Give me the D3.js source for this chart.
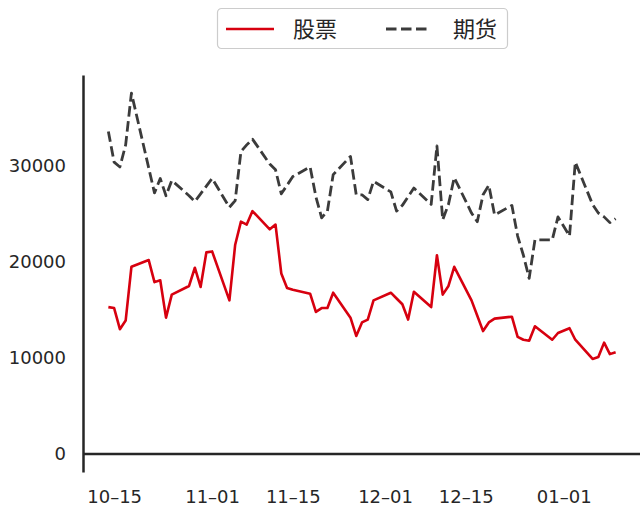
<!DOCTYPE html>
<html>
<head>
<meta charset="utf-8">
<script src="https://cdn.jsdelivr.net/npm/d3@7"></script>
<style>
	body { margin: 0; background: #fff; }
	svg { display: block; }
	.tick text { font-family: 'DejaVu Sans', sans-serif; font-size: 18px; fill: #262626; }
	.legend text { font-family: 'Noto Sans CJK SC', sans-serif; font-size: 22px; fill: #262626; }
</style>
</head>
<body>
<svg id="chart" width="640" height="512"></svg>
<script>
// trading days, Oct 2019 - Jan 2020
const dates = [
	'2019-10-14','2019-10-15','2019-10-16','2019-10-17','2019-10-18',
	'2019-10-21','2019-10-22','2019-10-23','2019-10-24','2019-10-25',
	'2019-10-28','2019-10-29','2019-10-30','2019-10-31','2019-11-01',
	'2019-11-04','2019-11-05','2019-11-06','2019-11-07','2019-11-08',
	'2019-11-11','2019-11-12','2019-11-13','2019-11-14','2019-11-15',
	'2019-11-18','2019-11-19','2019-11-20','2019-11-21','2019-11-22',
	'2019-11-25','2019-11-26','2019-11-27','2019-11-28','2019-11-29',
	'2019-12-02','2019-12-03','2019-12-04','2019-12-05','2019-12-06',
	'2019-12-09','2019-12-10','2019-12-11','2019-12-12','2019-12-13',
	'2019-12-16','2019-12-17','2019-12-18','2019-12-19','2019-12-20',
	'2019-12-23','2019-12-24','2019-12-25','2019-12-26','2019-12-27',
	'2019-12-30','2019-12-31','2020-01-02','2020-01-03',
	'2020-01-06','2020-01-07','2020-01-08','2020-01-09','2020-01-10'
];

const stockValues = [
	15300, 15200, 13000, 13900, 19500,
	20200, 17900, 18100, 14200, 16600,
	17500, 19400, 17400, 21000, 21100,
	16000, 21800, 24200, 23900, 25300,
	23400, 23900, 18800, 17300, 17100,
	16700, 14800, 15200, 15200, 16800,
	14200, 12300, 13700, 14000, 16000,
	16800, 16200, 15600, 14000, 16900,
	15300, 20700, 16600, 17500, 19500,
	16000, 14400, 12800, 13700, 14100,
	14300, 12200, 11900, 11800, 13300,
	11900, 12600, 13100, 11900,
	9900, 10100, 11600, 10400, 10600
];

const futuresValues = [
	33600, 30400, 29900, 32200, 37600,
	29800, 27200, 28700, 26900, 28500,
	26900, 26300, 27100, 27900, 28700,
	25700, 26400, 31500, 32200, 32800,
	30200, 29600, 27100, 28000, 28900,
	29900, 26800, 24600, 25300, 29100,
	31000, 27000, 27000, 26500, 28400,
	27300, 25300, 25900, 26800, 27700,
	26000, 32100, 24400, 26000, 28800,
	25100, 24200, 27000, 28000, 24900,
	25900, 22700, 20700, 18300, 22300,
	22300, 24700, 22700, 30400,
	26000, 25100, 24700, 24100, 24500
];

const seriesNames = ['股票', '期货'];
const xTickDates = ['2019-10-15', '2019-11-01', '2019-11-15', '2019-12-01', '2019-12-15', '2020-01-01'];
const yTicks = [0, 10000, 20000, 30000];

const parseDate = d3.timeParse('%Y-%m-%d');
const svg = d3.select('#chart');

const plot = { left: 83, right: 641, top: 75, bottom: 472 };

const series = [
	{ name: seriesNames[0], values: stockValues, color: '#d7000f', dash: null, width: 2.6, legendLen: 48 },
	{ name: seriesNames[1], values: futuresValues, color: '#3b3b3b', dash: '10.5,4.5', width: 2.8, legendLen: 44 }
];

function paddedExtent(lo, hi) {
	const pad = (hi - lo) * 0.05;
	return [lo - pad, hi + pad];
}

const parsedDates = dates.map(parseDate);
const tExtent = d3.extent(parsedDates).map(d => d.getTime());
const x = d3.scaleTime()
	.domain(paddedExtent(tExtent[0], tExtent[1]).map(t => new Date(t)))
	.range([plot.left, plot.right]);

const yMax = d3.max([stockValues, futuresValues], v => d3.max(v));
const y = d3.scaleLinear()
	.domain(paddedExtent(0, yMax))
	.range([plot.bottom, plot.top]);

// y axis, left spine only
svg.append('g')
	.attr('class', 'y-axis')
	.attr('transform', 'translate(' + plot.left + ',0)')
	.call(d3.axisLeft(y).tickValues(yTicks).tickSize(0).tickSizeOuter(0).tickPadding(17).tickFormat(d3.format('d')))
	.call(g => g.select('.domain').attr('stroke', '#262626').attr('stroke-width', 2.5));

// x axis, labels only
const monthDay = d3.timeFormat('%m\u2013%d');
svg.append('g')
	.attr('class', 'x-axis')
	.attr('transform', 'translate(0,' + plot.bottom + ')')
	.call(d3.axisBottom(x).tickValues(xTickDates.map(parseDate)).tickSize(0).tickPadding(18).tickFormat(monthDay))
	.call(g => g.select('.domain').remove());

// zero line
svg.append('line')
	.attr('x1', plot.left)
	.attr('x2', plot.right)
	.attr('y1', y(0))
	.attr('y2', y(0))
	.attr('stroke', '#262626')
	.attr('stroke-width', 2.5);

const line = d3.line()
	.x((d, i) => x(parsedDates[i]))
	.y(d => y(d));

svg.selectAll('.series-line')
	.data(series)
	.enter().append('path')
	.attr('class', 'series-line')
	.attr('fill', 'none')
	.attr('stroke', d => d.color)
	.attr('stroke-width', d => d.width)
	.attr('stroke-dasharray', d => d.dash)
	.attr('stroke-linejoin', 'round')
	.attr('d', d => line(d.values));

// legend
const legend = svg.append('g')
	.attr('class', 'legend')
	.attr('transform', 'translate(217, 8)');

legend.append('rect')
	.attr('x', 0.5)
	.attr('y', 0.5)
	.attr('width', 290)
	.attr('height', 40)
	.attr('rx', 4)
	.attr('fill', '#fff')
	.attr('stroke', '#cccccc')
	.attr('stroke-width', 1.2);

const legendItems = legend.selectAll('.legend-item')
	.data(series)
	.enter().append('g')
	.attr('class', 'legend-item')
	.attr('transform', (d, i) => 'translate(' + (9 + i * 160) + ', 21)');

legendItems.append('line')
	.attr('x1', 0)
	.attr('x2', d => d.legendLen)
	.attr('stroke', d => d.color)
	.attr('stroke-width', d => d.width)
	.attr('stroke-dasharray', d => d.dash);

legendItems.append('text')
	.attr('x', 67)
	.attr('dy', '0.36em')
	.text(d => d.name);
</script>
</body>
</html>
